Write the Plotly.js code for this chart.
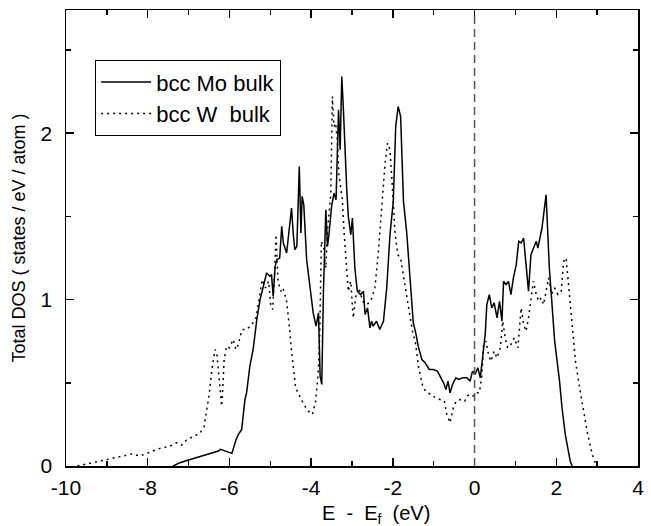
<!DOCTYPE html>
<html>
<head>
<meta charset="utf-8">
<script src="https://cdn.plot.ly/plotly-3.0.1.min.js"></script>
<style>html,body{margin:0;padding:0;background:#fff;}#chart{width:651px;height:526px;}</style>
</head>
<body>
<div id="chart"></div>
<script>
// bcc Mo bulk (solid)
const moE = [
 -7.38, -7.21, -7.00, -6.27, -6.22, -5.94, -5.84, -5.78, -5.70, -5.62,
 -5.58, -5.50, -5.42, -5.33, -5.25, -5.17, -5.09, -5.01, -4.97, -4.93,
 -4.88, -4.84, -4.77, -4.72, -4.68, -4.60, -4.56, -4.48, -4.44, -4.40,
 -4.35, -4.29, -4.25, -4.22, -4.18, -4.11, -4.03, -3.95, -3.88, -3.82,
 -3.78, -3.74, -3.70, -3.64, -3.60, -3.56, -3.50, -3.44, -3.39, -3.33,
 -3.29, -3.25, -3.21, -3.17, -3.13, -3.09, -3.03, -2.99, -2.93, -2.87,
 -2.79, -2.72, -2.68, -2.62, -2.56, -2.52, -2.48, -2.40, -2.32, -2.23,
 -2.15, -2.07, -1.99, -1.93, -1.87, -1.81, -1.74, -1.66, -1.58, -1.50,
 -1.44, -1.38, -1.29, -1.21, -1.11, -1.01, -0.91, -0.82, -0.76, -0.70,
 -0.65, -0.60, -0.54, -0.46, -0.39, -0.29, -0.19, -0.11, -0.05, 0.01,
 0.08, 0.14, 0.20, 0.26, 0.30, 0.36, 0.42, 0.48, 0.55, 0.61,
 0.67, 0.71, 0.77, 0.83, 0.89, 0.95, 1.02, 1.08, 1.14, 1.20,
 1.26, 1.32, 1.38, 1.44, 1.51, 1.55, 1.61, 1.65, 1.71, 1.75,
 1.79, 1.83, 1.89, 1.96, 2.02, 2.08, 2.14, 2.22, 2.28, 2.34,
 2.39
];
const moDOS = [
 0, 0.02, 0.036, 0.09, 0.10, 0.076, 0.156, 0.19, 0.22, 0.40,
 0.44, 0.60, 0.70, 0.88, 1.00, 1.08, 1.16, 1.14, 1.15, 1.02,
 1.20, 1.24, 1.25, 1.44, 1.34, 1.28, 1.37, 1.55, 1.40, 1.30,
 1.32, 1.80, 1.40, 1.62, 1.57, 1.24, 1.08, 0.92, 0.84, 0.92,
 0.54, 0.49, 1.04, 1.54, 1.32, 1.40, 1.56, 1.64, 1.60, 2.14,
 1.90, 2.34, 2.14, 1.88, 1.67, 1.50, 1.39, 1.49, 1.19, 1.05,
 1.03, 1.05, 0.91, 0.95, 0.83, 0.87, 0.84, 0.87, 0.82, 0.87,
 1.07, 1.39, 1.59, 2.04, 2.16, 2.10, 1.59, 1.40, 1.10, 0.86,
 0.80, 0.72, 0.64, 0.62, 0.58, 0.58, 0.57, 0.53, 0.50, 0.46,
 0.51, 0.44, 0.49, 0.53, 0.52, 0.53, 0.53, 0.51, 0.57, 0.55,
 0.59, 0.53, 0.67, 0.79, 0.97, 1.03, 0.95, 0.98, 0.89, 0.99,
 0.87, 1.11, 1.09, 1.11, 1.03, 1.13, 1.21, 1.35, 1.34, 1.37,
 1.21, 1.05, 1.27, 1.31, 1.35, 1.31, 1.39, 1.43, 1.55, 1.63,
 1.41, 1.19, 0.99, 0.75, 0.63, 0.51, 0.35, 0.19, 0.11, 0.03,
 0
];
// bcc W bulk (dotted)
const wE = [
 -9.72, -9.25, -8.76, -8.39, -8.19, -7.70, -7.45, -7.29, -7.17, -7.05,
 -6.89, -6.72, -6.62, -6.56, -6.49, -6.43, -6.35, -6.31, -6.27, -6.23,
 -6.19, -6.16, -6.13, -6.07, -6.00, -5.91, -5.84, -5.78, -5.74, -5.68,
 -5.58, -5.45, -5.35, -5.28, -5.20, -5.12, -5.04, -4.99, -4.94, -4.89,
 -4.86, -4.81, -4.74, -4.69, -4.60, -4.53, -4.48, -4.38, -4.28, -4.18,
 -4.07, -3.97, -3.89, -3.83, -3.79, -3.75, -3.69, -3.64, -3.60, -3.56,
 -3.52, -3.48, -3.44, -3.40, -3.36, -3.32, -3.28, -3.24, -3.19, -3.15,
 -3.09, -3.03, -2.97, -2.90, -2.83, -2.74, -2.64, -2.54, -2.44, -2.36,
 -2.27, -2.19, -2.13, -2.07, -2.01, -1.95, -1.88, -1.81, -1.72, -1.62,
 -1.52, -1.44, -1.37, -1.26, -1.16, -1.06, -0.96, -0.85, -0.74, -0.68,
 -0.60, -0.52, -0.45, -0.34, -0.24, -0.19, -0.11, -0.04, 0.03, 0.12,
 0.18, 0.22, 0.28, 0.34, 0.40, 0.48, 0.55, 0.63, 0.69, 0.75,
 0.81, 0.89, 0.97, 1.06, 1.14, 1.20, 1.26, 1.32, 1.38, 1.44,
 1.51, 1.57, 1.63, 1.69, 1.75, 1.81, 1.88, 1.96, 2.04, 2.12,
 2.18, 2.24, 2.30, 2.38, 2.47, 2.57, 2.67, 2.77, 2.88, 2.98
];
const wDOS = [
 0, 0.026, 0.056, 0.072, 0.06, 0.106, 0.12, 0.14, 0.125, 0.156,
 0.176, 0.198, 0.236, 0.32, 0.44, 0.58, 0.70, 0.68, 0.56, 0.44,
 0.36, 0.48, 0.64, 0.72, 0.71, 0.76, 0.70, 0.73, 0.78, 0.82,
 0.82, 0.85, 0.89, 0.99, 1.12, 1.07, 1.11, 0.97, 0.94, 1.19,
 1.39, 1.11, 1.05, 1.07, 0.99, 0.83, 0.69, 0.47, 0.42, 0.37,
 0.33, 0.31, 0.39, 0.55, 0.79, 1.35, 1.31, 1.19, 1.41, 1.51,
 1.63, 2.22, 2.04, 2.06, 1.96, 1.75, 1.67, 1.61, 1.39, 1.23,
 1.05, 1.11, 0.89, 1.03, 1.07, 0.99, 0.97, 0.99, 1.07, 1.27,
 1.55, 1.82, 1.94, 1.90, 1.67, 1.41, 1.27, 1.25, 1.11, 0.95,
 0.81, 0.73, 0.59, 0.47, 0.44, 0.43, 0.41, 0.40, 0.39, 0.31,
 0.26, 0.35, 0.39, 0.40, 0.39, 0.42, 0.43, 0.42, 0.44, 0.44,
 0.55, 0.73, 0.75, 0.67, 0.63, 0.69, 0.65, 0.71, 0.87, 0.77,
 0.71, 0.73, 0.77, 0.71, 0.95, 0.85, 0.81, 0.89, 0.99, 1.11,
 1.03, 0.99, 1.01, 0.97, 1.05, 1.13, 1.03, 1.07, 1.03, 1.05,
 1.23, 1.25, 1.09, 0.87, 0.63, 0.47, 0.33, 0.19, 0.07, 0
];
const seriesNames = ["bcc Mo bulk", "bcc W\u00a0 bulk"];
const xTickVals = [-10, -8, -6, -4, -2, 0, 2, 4];
const xTickText = ["-10", "-8", "-6", "-4", "-2", "0", "2", "4"];
const yTickVals = [0, 1, 2];
const yTickText = ["0", "1", "2"];
const fermiE = 0;
const xTitle = "E\u00a0 -\u00a0 E<sub>f</sub>\u00a0 (eV)";
const yTitle = "Total DOS ( states / eV / atom )";

const font = "Liberation Sans, Arial, Helvetica, sans-serif";

const traces = [
  {x: moE, y: moDOS, mode: "lines", name: seriesNames[0],
   line: {color: "#000", width: 1.5}},
  {x: wE, y: wDOS, mode: "lines", name: seriesNames[1],
   line: {color: "#000", width: 1.5, dash: "2px,4px"}}
];

const axisCommon = {
  showline: true, linecolor: "#000", linewidth: 1.5, mirror: "allticks",
  ticks: "inside", ticklen: 8, tickwidth: 1.5, tickcolor: "#000",
  showgrid: false, zeroline: false,
  tickfont: {family: font, size: 21, color: "#000"}
};

const layout = {
  width: 651, height: 526,
  margin: {l: 66, r: 13, t: 10, b: 60},
  paper_bgcolor: "#fff", plot_bgcolor: "#fff",
  showlegend: true,
  legend: {x: 0.051, y: 0.89, xanchor: "left", yanchor: "top",
    bordercolor: "#000", borderwidth: 1, bgcolor: "#fff", itemwidth: 50,
    font: {family: font, size: 22, color: "#000"}, tracegroupgap: 0},
  xaxis: Object.assign({}, axisCommon, {
    range: [-10, 4], tickvals: xTickVals, ticktext: xTickText, ticklabelstandoff: 2,
    minor: {dtick: 1, ticks: "inside", ticklen: 5, tickwidth: 1.5, tickcolor: "#000", showgrid: false}
  }),
  yaxis: Object.assign({}, axisCommon, {
    range: [0, 2.74], tickvals: yTickVals, ticktext: yTickText, ticklabelstandoff: 8,
    minor: {dtick: 0.5, ticks: "inside", ticklen: 5, tickwidth: 1.5, tickcolor: "#000", showgrid: false},
    title: {text: yTitle, font: {family: font, size: 18, color: "#000"}, standoff: 10}
  }),
  annotations: [{text: xTitle, xref: "paper", yref: "paper", x: 0.542, y: -0.106,
    xanchor: "center", yanchor: "middle", showarrow: false,
    font: {family: font, size: 20, color: "#000"}}],
  shapes: [{type: "line", xref: "x", yref: "paper", x0: fermiE, x1: fermiE, y0: 0, y1: 1,
    line: {color: "#555", width: 1.5, dash: "8px,5px"}}]
};

Plotly.newPlot("chart", traces, layout, {displayModeBar: false, staticPlot: true});
</script>
</body>
</html>
